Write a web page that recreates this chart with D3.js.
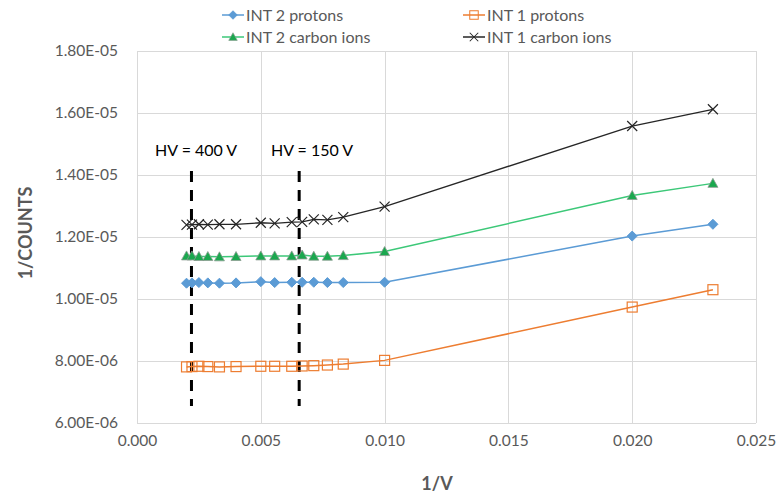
<!DOCTYPE html>
<meta charset="utf-8">
<style>
body { margin: 0; background: #fff; }
text { font-family: Lato, "Open Sans", sans-serif; }
.grid line { stroke: #d9d9d9; stroke-width: 1px; }
.tick text { fill: #595959; font-size: 15.5px; }
</style>
<svg width="776" height="496"></svg>
<script src="https://d3js.org/d3.v7.min.js"></script>
<script>
// data (1/V on x, 1/COUNTS on y)
var invV = [0.002, 0.00222, 0.0025, 0.00286, 0.00333, 0.004, 0.005, 0.00556, 0.00625, 0.00667, 0.00714, 0.00769, 0.00833, 0.01, 0.02, 0.02326];

var int2Protons = [1.051e-5, 1.052e-5, 1.053e-5, 1.052e-5, 1.051e-5, 1.052e-5, 1.056e-5, 1.053e-5, 1.054e-5, 1.054e-5, 1.054e-5, 1.053e-5, 1.053e-5, 1.054e-5, 1.203e-5, 1.241e-5];
var int1Protons = [7.81e-6, 7.82e-6, 7.83e-6, 7.82e-6, 7.81e-6, 7.82e-6, 7.83e-6, 7.83e-6, 7.83e-6, 7.84e-6, 7.85e-6, 7.87e-6, 7.90e-6, 8.02e-6, 9.74e-6, 1.030e-5];
var int2Carbon = [1.139e-5, 1.139e-5, 1.137e-5, 1.137e-5, 1.136e-5, 1.137e-5, 1.139e-5, 1.139e-5, 1.139e-5, 1.142e-5, 1.138e-5, 1.138e-5, 1.140e-5, 1.153e-5, 1.334e-5, 1.373e-5];
var int1Carbon = [1.239e-5, 1.240e-5, 1.241e-5, 1.240e-5, 1.241e-5, 1.241e-5, 1.246e-5, 1.244e-5, 1.248e-5, 1.249e-5, 1.257e-5, 1.255e-5, 1.264e-5, 1.298e-5, 1.558e-5, 1.612e-5];

var xTicks = [0, 0.005, 0.010, 0.015, 0.020, 0.025];
var yTicks = [6e-6, 8e-6, 1e-5, 1.2e-5, 1.4e-5, 1.6e-5, 1.8e-5];

// HV annotations: dashed line at x, label starts at labelX
var hvLabels = ["HV = 400 V", "HV = 150 V"];
var hvX = [0.0022, 0.00655];
var hvLabelX = [0.00073, 0.00541];
var hvTop = 1.413e-5, hvBottom = 6.55e-6, hvLabelY = 1.462e-5;

var series = [
  { name: "INT 2 protons", values: int2Protons, color: "#5B9BD5", marker: "diamond" },
  { name: "INT 1 protons", values: int1Protons, color: "#ED7D31", marker: "square" },
  { name: "INT 2 carbon ions", values: int2Carbon, color: "#3CC878", marker: "triangle" },
  { name: "INT 1 carbon ions", values: int1Carbon, color: "#262626", marker: "cross" }
];

var svg = d3.select("svg"),
    margin = {top: 51, right: 20, bottom: 73, left: 137},
    width = 776 - margin.left - margin.right,
    height = 496 - margin.top - margin.bottom;

var x = d3.scaleLinear().domain([0, 0.025]).range([0, width]);
var y = d3.scaleLinear().domain([6e-6, 1.8e-5]).range([height, 0]);

var g = svg.append("g").attr("transform", "translate(" + margin.left + "," + margin.top + ")");

// gridlines
g.append("g").attr("class", "grid")
  .selectAll("line.h").data(yTicks).enter().append("line")
    .attr("x1", 0).attr("x2", width)
    .attr("y1", function(d) { return y(d) + 0.5; }).attr("y2", function(d) { return y(d) + 0.5; });
g.append("g").attr("class", "grid")
  .selectAll("line.v").data(xTicks).enter().append("line")
    .attr("y1", 0).attr("y2", height)
    .attr("x1", function(d) { return Math.round(x(d)) + 0.5; }).attr("x2", function(d) { return Math.round(x(d)) + 0.5; });

// axes (labels only)
var xAxis = g.append("g").attr("transform", "translate(0," + height + ")")
  .call(d3.axisBottom(x).tickValues(xTicks).tickFormat(d3.format(".3f")).tickSize(0).tickPadding(12));
var yAxis = g.append("g")
  .call(d3.axisLeft(y).tickValues(yTicks).tickSize(0).tickPadding(19)
    .tickFormat(function(d) {
      var e = Math.floor(Math.log10(d) + 1e-9);
      var m = d / Math.pow(10, e);
      return m.toFixed(2) + "E-" + String(-e).padStart(2, "0");
    }));
xAxis.select(".domain").remove();
yAxis.select(".domain").remove();

// axis titles
svg.append("text")
  .attr("x", 437).attr("y", 490)
  .attr("text-anchor", "middle")
  .attr("fill", "#595959").attr("font-size", "18px").attr("font-weight", "bold")
  .text("1/V");
svg.append("text")
  .attr("transform", "translate(32,233) rotate(-90)")
  .attr("text-anchor", "middle")
  .attr("fill", "#595959").attr("font-size", "18px").attr("font-weight", "bold")
  .text("1/COUNTS");

// HV dashed lines
hvX.forEach(function(v, i) {
  g.append("line")
    .attr("x1", x(v)).attr("x2", x(v))
    .attr("y1", y(hvTop)).attr("y2", y(hvBottom))
    .attr("stroke", "#000").attr("stroke-width", 3)
    .attr("stroke-dasharray", "11,8");
  g.append("text")
    .attr("x", x(hvLabelX[i])).attr("y", y(hvLabelY))
    .attr("fill", "#000").attr("font-size", "16px")
    .attr("font-family", "'Liberation Sans', Arial, sans-serif")
    .text(hvLabels[i]);
});

// marker drawing helper
function drawMarker(sel, type, color) {
  if (type === "diamond") {
    sel.append("path").attr("d", "M0,-5L5,0L0,5L-5,0Z").attr("fill", color).attr("stroke", color);
  } else if (type === "square") {
    sel.append("rect").attr("x", -5).attr("y", -5).attr("width", 10).attr("height", 10)
      .attr("fill", "none").attr("stroke", color).attr("stroke-width", 1.2);
  } else if (type === "triangle") {
    sel.append("path").attr("d", "M0,-5L5,4L-5,4Z").attr("fill", "#1AA84E").attr("stroke", "#8c9c90").attr("stroke-width", 0.8);
  } else {
    sel.append("path").attr("d", "M-5,-5L5,5M-5,5L5,-5").attr("stroke", color).attr("stroke-width", 1.2).attr("fill", "none");
  }
}

var line = d3.line()
  .x(function(d) { return x(d[0]); })
  .y(function(d) { return y(d[1]); });

series.forEach(function(s) {
  var pts = invV.map(function(v, i) { return [v, s.values[i]]; });
  g.append("path").datum(pts)
    .attr("d", line)
    .attr("fill", "none")
    .attr("stroke", s.color)
    .attr("stroke-width", s.marker === "cross" ? 1.3 : 1.5);
  g.append("g").selectAll("g").data(pts).enter().append("g")
    .attr("transform", function(d) { return "translate(" + x(d[0]) + "," + y(d[1]) + ")"; })
    .each(function() { drawMarker(d3.select(this), s.marker, s.color); });
});

// legend
var legPos = [[222, 15], [463, 15], [222, 37], [463, 37]];
series.forEach(function(s, i) {
  var lg = svg.append("g").attr("transform", "translate(" + legPos[i][0] + "," + legPos[i][1] + ")");
  lg.append("line").attr("x1", 0).attr("x2", 22).attr("y1", 0).attr("y2", 0)
    .attr("stroke", s.color).attr("stroke-width", 1.5);
  var m = lg.append("g").attr("transform", "translate(11,0) scale(0.85)");
  drawMarker(m, s.marker, s.color);
  lg.append("text").attr("x", 24).attr("y", 5.5)
    .attr("fill", "#595959").attr("font-size", "16px")
    .text(s.name);
});
</script>
